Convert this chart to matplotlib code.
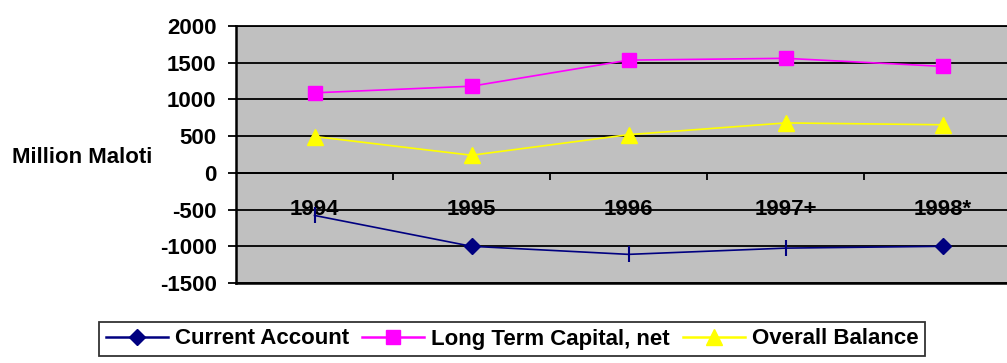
import matplotlib.pyplot as plt
from matplotlib.ticker import FixedLocator

plt.rcParams['font.family'] = ['Liberation Sans', 'DejaVu Sans']
plt.rcParams['font.weight'] = 'bold'
plt.rcParams['axes.unicode_minus'] = False

years = ['1994', '1995', '1996', '1997+', '1998*']
current_account = [-580, -1000, -1110, -1025, -1000]
long_term_capital = [1090, 1180, 1535, 1560, 1450]
overall_balance = [495, 240, 520, 680, 655]

fig = plt.figure(figsize=(10.07, 3.63), dpi=100)
ax = fig.add_axes([236 / 1007, 80 / 363, 785 / 1007, 257 / 363])
ax.set_facecolor('#c0c0c0')

x = range(len(years))

# current account: diamonds at 1995/1998, small ticks elsewhere
ax.plot(x, current_account, color='#000080', lw=1.2, marker='D', ms=8,
        markevery=[1, 4], zorder=3)
ax.plot([0, 2, 3], [current_account[i] for i in (0, 2, 3)], ls='none',
        marker='|', ms=11, mew=1.5, color='#000080', zorder=3)
ax.plot(x, long_term_capital, color='#ff00ff', lw=1.2, marker='s', ms=10,
        zorder=3)
ax.plot(x, overall_balance, color='#ffff00', lw=1.2, marker='^', ms=11,
        zorder=3)

ax.set_xlim(-0.5, 4.5)
ax.set_ylim(-1500, 2000)
ax.set_yticks(range(-1500, 2001, 500))
ax.yaxis.grid(True, color='black', lw=1.3)
ax.set_axisbelow(True)
ax.tick_params(axis='y', length=6, width=1.3, pad=8, labelsize=16)

ax.spines['bottom'].set_position(('data', 0))
ax.spines['bottom'].set_linewidth(1.3)
ax.spines['left'].set_linewidth(1.8)
ax.spines['top'].set_linewidth(1.3)
ax.spines['right'].set_visible(False)
ax.axhline(-1500, color='black', lw=1.8, clip_on=False, zorder=2)

ax.set_xticks(list(x))
ax.set_xticklabels(years)
ax.xaxis.set_minor_locator(FixedLocator([0.5, 1.5, 2.5, 3.5]))
ax.tick_params(axis='x', which='major', length=0, pad=19, labelsize=16)
ax.tick_params(axis='x', which='minor', length=5, width=1.3, direction='out')
for lbl in ax.get_xticklabels():
    lbl.set_zorder(5)

fig.text(12 / 1007, 1 - 158 / 363, 'Million Maloti', fontsize=16,
         fontweight='bold', ha='left', va='center')

labels = ['Current Account', 'Long Term Capital, net', 'Overall Balance']
handles = ax.get_lines()
leg = fig.legend([handles[0], handles[2], handles[3]], labels,
                 loc='center', bbox_to_anchor=(512 / 1007, 1 - 339 / 363),
                 ncol=3, fontsize=16, frameon=True, fancybox=False,
                 numpoints=1, handlelength=2.8, handletextpad=0.3,
                 columnspacing=0.6, borderpad=0.3, borderaxespad=0)
leg.get_frame().set_edgecolor('black')
leg.get_frame().set_linewidth(1.3)
# one marker in the middle of each legend handle
for line in leg.get_lines():
    line.set_markevery([1])
    line.set_linewidth(1.8)

fig.savefig('out.png', dpi=100)
